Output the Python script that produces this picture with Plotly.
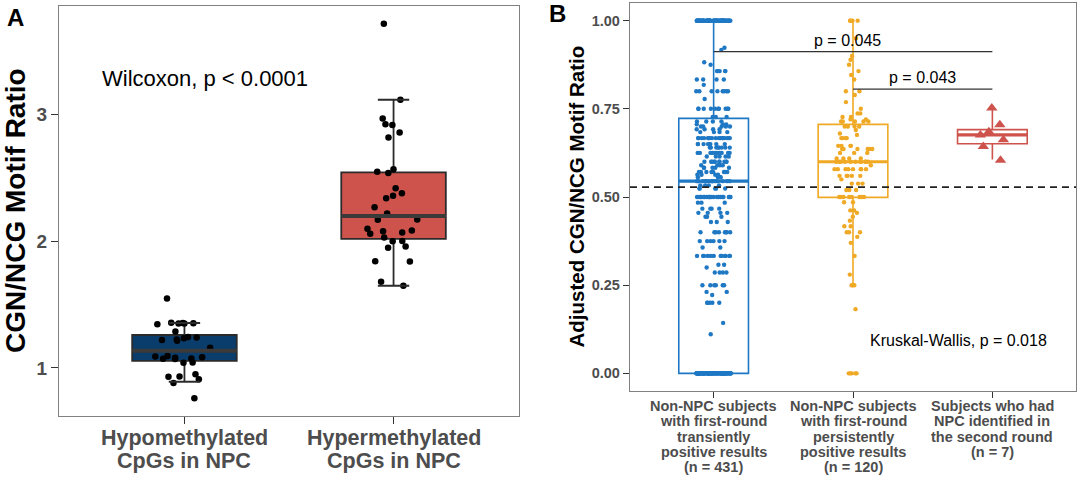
import numpy as np
import plotly.graph_objects as go

W, H = 1080, 479
FONT = "Liberation Sans, Arial, sans-serif"
GRAY = "#4d4d4d"

# ---------------- Panel A data ----------------
a_categories = ["Hypomethylated\nCpGs in NPC", "Hypermethylated\nCpGs in NPC"]
a_hypo = [1.548, 1.287, 1.350, 1.352, 1.355, 1.357, 1.350, 1.345, 1.245, 1.240,
          1.225, 1.235, 1.220, 1.215, 1.160, 1.095, 1.075, 1.080, 1.040, 1.070,
          1.072, 1.090, 1.085, 1.042, 0.930, 0.950, 0.932, 0.910, 0.880, 0.760]
a_hyper = [3.72, 3.12, 2.97, 2.92, 2.925, 2.86, 2.82, 2.54, 2.55, 2.57, 2.42,
           2.36, 2.38, 2.34, 2.27, 2.22, 2.17, 2.172, 2.08, 2.07, 2.06, 2.10,
           2.085, 2.03, 1.96, 2.00, 2.002, 1.95, 1.84, 1.842, 1.68, 1.65]
a_q1 = [1.055, 2.020]
a_median = [1.135, 2.200]
a_q3 = [1.260, 2.545]
a_lower = [0.890, 1.650]
a_upper = [1.355, 3.120]
a_fill = ["#0a3d6b", "#cd534c"]
a_test = "Wilcoxon, p < 0.0001"
a_yticks = [1, 2, 3]

# ---------------- Panel B data ----------------
b_categories = [
    "Non-NPC subjects\nwith first-round\ntransiently\npositive results\n(n = 431)",
    "Non-NPC subjects\nwith first-round\npersistently\npositive results\n(n = 120)",
    "Subjects who had\nNPC identified in\nthe second round\n(n = 7)",
]
b1_values = [1.0, 0.923, 0.917, 0.882, 0.875, 0.857, 0.833, 0.818, 0.8, 0.778,
             0.75, 0.727, 0.714, 0.706, 0.7, 0.692, 0.684, 0.667, 0.65, 0.64,
             0.625, 0.615, 0.6, 0.59, 0.583, 0.571, 0.563, 0.556, 0.545, 0.533,
             0.524, 0.5, 0.484, 0.467, 0.455, 0.444, 0.429, 0.4, 0.375, 0.357,
             0.333, 0.308, 0.3, 0.286, 0.25, 0.231, 0.222, 0.2, 0.143, 0.111, 0.0]
b1_counts = [70, 1, 1, 1, 1, 5, 4, 1, 8, 1,
             10, 3, 4, 3, 5, 4, 4, 18, 8, 8,
             10, 5, 10, 4, 5, 8, 4, 4, 14, 4,
             5, 20, 3, 4, 4, 3, 3, 8, 6, 2,
             12, 2, 1, 4, 6, 2, 1, 5, 1, 1, 110]
b2_values = [1.0, 0.95, 0.9, 0.889, 0.875, 0.857, 0.846, 0.833, 0.8, 0.789,
             0.769, 0.75, 0.737, 0.727, 0.72, 0.714, 0.7, 0.69, 0.68, 0.676,
             0.667, 0.645, 0.636, 0.625, 0.609, 0.6, 0.59, 0.579, 0.56, 0.55,
             0.538, 0.52, 0.5, 0.485, 0.462, 0.455, 0.444, 0.433, 0.417, 0.4,
             0.387, 0.37, 0.333, 0.28, 0.25, 0.182, 0.0]
b2_counts = [4, 1, 1, 1, 1, 1, 1, 1, 2, 1,
             1, 1, 2, 2, 2, 5, 4, 1, 1, 1,
             4, 4, 6, 3, 4, 11, 1, 8, 5, 1,
             3, 3, 8, 2, 2, 1, 1, 1, 2, 3,
             1, 1, 1, 1, 3, 1, 5]
b3_points = [0.752, 0.705, 0.685, 0.676, 0.662, 0.643, 0.604]
b_q1 = [0.000, 0.499, 0.651]
b_median = [0.545, 0.600, 0.676]
b_q3 = [0.723, 0.706, 0.691]
b_lower = [0.000, 0.250, 0.606]
b_upper = [1.000, 1.000, 0.747]
b_colors = ["#1f78c4", "#f0a924", "#cd534c"]
b_yticks = [0, 0.25, 0.5, 0.75, 1.0]
b_yticktext = ["0.00", "0.25", "0.50", "0.75", "1.00"]
b_threshold = 0.528
b_comparisons = [(1, 3, "p = 0.045"), (2, 3, "p = 0.043")]
b_test = "Kruskal-Wallis, p = 0.018"

b_points = [np.repeat(b1_values, b1_counts).tolist(),
            np.repeat(b2_values, b2_counts).tolist(),
            b3_points]

# ---------------- layout helpers ----------------
def px(p):
    return p / W


def py(p):
    return 1 - p / H


A_X = [px(59), px(519)]
A_Y = [py(416), py(6)]
B_X = [px(630), px(1076)]
B_Y = [py(391), py(3)]

fig = go.Figure()

# ---------------- Panel A traces ----------------
BOXW = 0.5
CAPW = 0.15
for i in range(len(a_categories)):
    pos = i + 1
    fig.add_trace(go.Box(
        x=[pos], q1=[a_q1[i]], median=[a_median[i]], q3=[a_q3[i]],
        lowerfence=[a_lower[i]], upperfence=[a_upper[i]],
        width=BOXW, fillcolor=a_fill[i], line=dict(color="#2b2b2b", width=1.8),
        whiskerwidth=0, boxpoints=False, xaxis="x", yaxis="y",
        showlegend=False, hoverinfo="skip"))
    fig.add_trace(go.Scatter(
        x=[pos - CAPW / 2, pos + CAPW / 2, None, pos - CAPW / 2, pos + CAPW / 2],
        y=[a_lower[i], a_lower[i], None, a_upper[i], a_upper[i]],
        mode="lines", line=dict(color="#2b2b2b", width=2),
        xaxis="x", yaxis="y", showlegend=False, hoverinfo="skip"))
    fig.add_trace(go.Scatter(
        x=[pos - BOXW / 2, pos + BOXW / 2], y=[a_median[i], a_median[i]],
        mode="lines", line=dict(color="#3a3a3a", width=4),
        xaxis="x", yaxis="y", showlegend=False, hoverinfo="skip"))

for i, vals in enumerate([a_hypo, a_hyper]):
    pos = i + 1
    fig.add_trace(go.Box(
        x=[pos] * len(vals), y=vals, boxpoints="all", jitter=0.62, pointpos=0,
        width=BOXW, fillcolor="rgba(0,0,0,0)",
        line=dict(color="rgba(0,0,0,0)", width=0), whiskerwidth=0,
        marker=dict(color="black", size=6.5),
        xaxis="x", yaxis="y", showlegend=False, hoverinfo="y"))

# ---------------- Panel B traces ----------------
for i in range(len(b_categories)):
    pos = i + 1
    fig.add_trace(go.Box(
        x=[pos], q1=[b_q1[i]], median=[b_median[i]], q3=[b_q3[i]],
        lowerfence=[b_lower[i]], upperfence=[b_upper[i]],
        width=BOXW, fillcolor="rgba(255,255,255,0)",
        line=dict(color=b_colors[i], width=1.6),
        whiskerwidth=0, boxpoints=False, xaxis="x2", yaxis="y2",
        showlegend=False, hoverinfo="skip"))
    fig.add_trace(go.Scatter(
        x=[pos - BOXW / 2, pos + BOXW / 2], y=[b_median[i], b_median[i]],
        mode="lines", line=dict(color=b_colors[i], width=3.2),
        xaxis="x2", yaxis="y2", showlegend=False, hoverinfo="skip"))

b_jitter = [0.5, 0.56, 0.45]
for i, vals in enumerate(b_points):
    pos = i + 1
    tri = (i == 2)
    fig.add_trace(go.Box(
        x=[pos] * len(vals), y=vals, boxpoints="all", jitter=b_jitter[i],
        pointpos=0, width=BOXW, fillcolor="rgba(0,0,0,0)",
        line=dict(color="rgba(0,0,0,0)", width=0), whiskerwidth=0,
        marker=dict(color=b_colors[i], size=10 if tri else 4.4,
                    symbol="triangle-up" if tri else "circle"),
        xaxis="x2", yaxis="y2", showlegend=False, hoverinfo="y"))

# ---------------- shapes ----------------
shapes = [dict(type="line", xref="x2 domain", yref="y2", x0=0, x1=1,
               y0=b_threshold, y1=b_threshold,
               line=dict(color="#222222", width=1.6, dash="7px,5px"))]
bracket_y = [0.912, 0.806]
label_y = [0.945, 0.840]
annotations = []
for k, (c0, c1, lab) in enumerate(b_comparisons):
    shapes.append(dict(type="line", xref="x2", yref="y2", x0=c0, x1=c1,
                       y0=bracket_y[k], y1=bracket_y[k],
                       line=dict(color="#333333", width=1.2)))
    annotations.append(dict(x=(c0 + c1) / 2 - (0.04 if k == 0 else 0),
                            y=label_y[k], xref="x2", yref="y2",
                            text=lab, showarrow=False, yanchor="middle",
                            font=dict(family=FONT, size=16, color="black")))

# ---------------- text annotations ----------------
annotations += [
    dict(x=0.595, y=3.29, xref="x", yref="y", text=a_test, showarrow=False,
         xanchor="left", yanchor="middle",
         font=dict(family=FONT, size=22, color="black")),
    dict(x=2.107, y=0.093, xref="x2", yref="y2", text=b_test, showarrow=False,
         xanchor="left", yanchor="middle",
         font=dict(family=FONT, size=16, color="black")),
    dict(x=px(15.5), y=py(17), xref="paper", yref="paper", text="<b>A</b>",
         showarrow=False, xanchor="center", yanchor="middle",
         font=dict(family=FONT, size=24, color="black")),
    dict(x=px(557), y=py(14), xref="paper", yref="paper", text="<b>B</b>",
         showarrow=False, xanchor="center", yanchor="middle",
         font=dict(family=FONT, size=24, color="black")),
    dict(x=px(15), y=py(211), xref="paper", yref="paper",
         text="<b>CGN/NCG Motif Ratio</b>", textangle=-90, showarrow=False,
         xanchor="center", yanchor="middle",
         font=dict(family=FONT, size=28, color="black")),
    dict(x=px(575.5), y=py(197), xref="paper", yref="paper",
         text="<b>Adjusted CGN/NCG Motif Ratio</b>", textangle=-90,
         showarrow=False, xanchor="center", yanchor="middle",
         font=dict(family=FONT, size=20.5, color="black")),
]

# category labels, one annotation per text line
for i, cat in enumerate(a_categories):
    for j, line in enumerate(cat.split("\n")):
        annotations.append(dict(
            x=i + 1, y=py(438 + 22.5 * j), xref="x", yref="paper",
            text="<b>%s</b>" % line, showarrow=False, xanchor="center",
            yanchor="middle", font=dict(family=FONT, size=21.5, color=GRAY)))
for i, cat in enumerate(b_categories):
    for j, line in enumerate(cat.split("\n")):
        annotations.append(dict(
            x=i + 1, y=py(405.8 + 15.4 * j), xref="x2", yref="paper",
            text="<b>%s</b>" % line, showarrow=False, xanchor="center",
            yanchor="middle", font=dict(family=FONT, size=14.5, color=GRAY)))

frame = dict(showline=True, mirror=True, linecolor="#808080", linewidth=1.4,
             showgrid=False, zeroline=False, ticks="outside",
             tickcolor="#333333", tickwidth=1.3, fixedrange=True)

fig.update_layout(
    width=W, height=H, margin=dict(l=0, r=0, t=0, b=0),
    paper_bgcolor="white", plot_bgcolor="white", boxmode="overlay",
    showlegend=False, shapes=shapes, annotations=annotations,
    font=dict(family=FONT),
    xaxis=dict(domain=A_X, range=[0.4, 2.6], tickvals=[1, 2],
               ticktext=["", ""], ticklen=7, anchor="y", **frame),
    yaxis=dict(domain=A_Y, range=[0.62, 3.86], tickvals=a_yticks,
               ticktext=[str(t) for t in a_yticks], ticklen=7, anchor="x",
               tickfont=dict(family=FONT, size=19, color=GRAY, weight="bold"),
               **frame),
    xaxis2=dict(domain=B_X, range=[0.4, 3.6], tickvals=[1, 2, 3],
                ticktext=["", "", ""], ticklen=6, anchor="y2", **frame),
    yaxis2=dict(domain=B_Y, range=[-0.05, 1.05], tickvals=b_yticks,
                ticktext=b_yticktext, ticklen=6, anchor="x2",
                tickfont=dict(family=FONT, size=14.5, color=GRAY, weight="bold"),
                **frame),
)

fig.write_html("out.html")
